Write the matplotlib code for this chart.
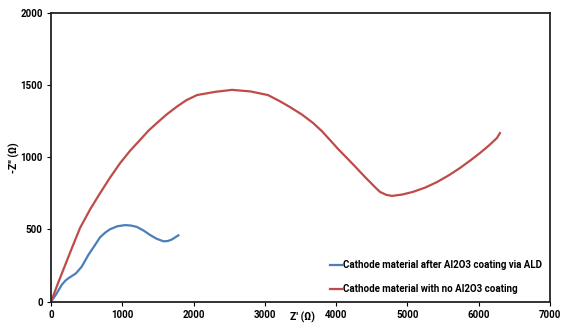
import matplotlib
matplotlib.use("Agg")
import matplotlib.pyplot as plt

plt.rcParams['font.family'] = ['Roboto', 'DejaVu Sans']

# blue: after Al2O3 coating via ALD
blue_x = [0, 40, 80, 150, 200, 243, 300, 350, 430, 480, 523, 617, 687, 760, 827, 930,
          1038, 1120, 1202, 1300, 1389, 1480, 1576, 1640, 1693, 1786]
blue_y = [0, 28, 58, 116, 145, 162, 180, 196, 242, 285, 323, 392, 445, 478, 501, 522,
          530, 527, 518, 492, 462, 436, 418, 420, 430, 459]

# red: no Al2O3 coating
red_x = [0, 100, 200, 300, 407, 550, 687, 830, 968, 1110, 1248, 1370, 1482, 1620, 1763,
         1900, 2048, 2300, 2539, 2800, 3043, 3200, 3352, 3520, 3675, 3800, 3913, 4030,
         4151, 4280, 4404, 4474, 4550, 4614, 4700, 4783, 4930, 5077, 5250, 5414, 5580,
         5736, 5880, 6017, 6140, 6255, 6297]
red_y = [0, 130, 255, 380, 510, 640, 750, 860, 958, 1045, 1119, 1185, 1235, 1295, 1349,
         1395, 1430, 1452, 1466, 1455, 1430, 1390, 1347, 1295, 1237, 1180, 1119, 1055,
         994, 928, 863, 828, 790, 760, 740, 732, 742, 760, 790, 828, 875,
         925, 977, 1029, 1080, 1133, 1167]

xticks = [0, 1000, 2000, 3000, 4000, 5000, 6000, 7000]
yticks = [0, 500, 1000, 1500, 2000]

fig = plt.figure(figsize=(5.73, 3.35), dpi=100)
ax = fig.add_axes([0.089, 0.0994, 0.871, 0.8627])

ax.plot(blue_x, blue_y, color='#4a7ebb', lw=1.6,
        label='Cathode material after Al2O3 coating via ALD')
ax.plot(red_x, red_y, color='#be4b48', lw=1.6,
        label='Cathode material with no Al2O3 coating')

ax.set_xlim(0, 7000)
ax.set_ylim(0, 2000)
ax.set_xticks(xticks)
ax.set_yticks(yticks)
ax.tick_params(direction='out', length=3, width=0.8, labelsize=7, pad=3)
for lab in ax.get_xticklabels() + ax.get_yticklabels():
    lab.set_fontweight('bold')
for s in ax.spines.values():
    s.set_linewidth(1.3)
    s.set_color('#222222')

ax.set_ylabel("-Z'' (Ω)", fontsize=7.5, fontweight='bold', labelpad=0)
ax.text(3530, -70, "Z' (Ω)", fontsize=7.5, fontweight='bold', ha='center', va='top')

leg = ax.legend(loc='lower right', bbox_to_anchor=(1.0, 0.0), frameon=False,
                fontsize=7, handlelength=1.3, handletextpad=0.1, labelspacing=1.4,
                borderaxespad=0.4)
for t in leg.get_texts():
    t.set_fontweight('bold')

fig.savefig('out.png', dpi=100)
